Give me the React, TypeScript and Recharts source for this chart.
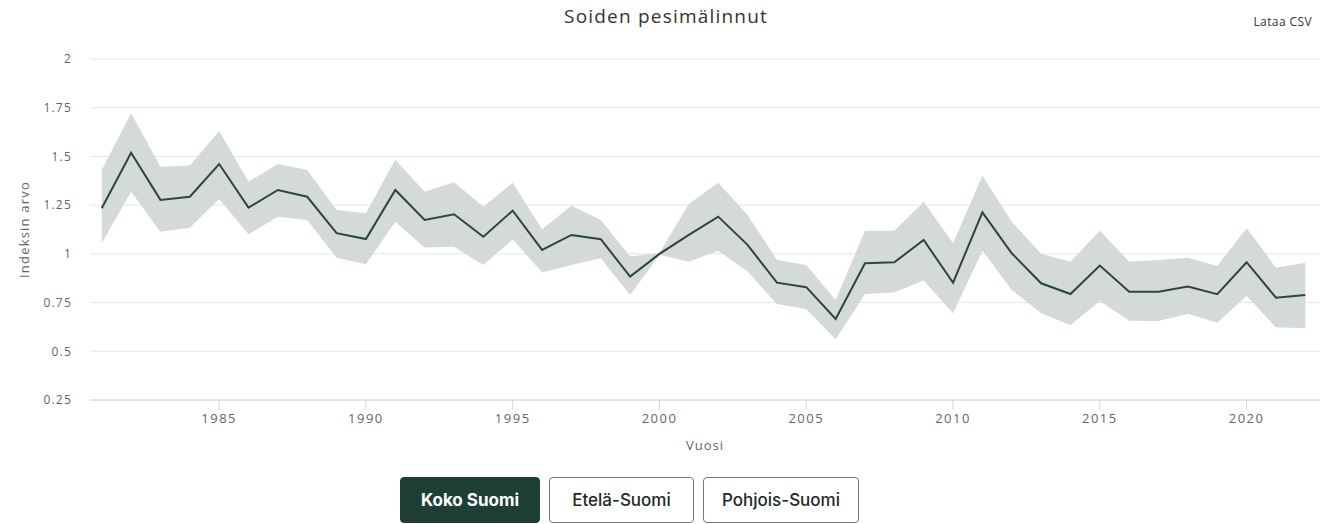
import { ComposedChart, Area, Line, XAxis, YAxis, CartesianGrid } from "recharts";

const years = [
  1981, 1982, 1983, 1984, 1985, 1986, 1987, 1988, 1989, 1990, 1991, 1992, 1993, 1994,
  1995, 1996, 1997, 1998, 1999, 2000, 2001, 2002, 2003, 2004, 2005, 2006, 2007, 2008,
  2009, 2010, 2011, 2012, 2013, 2014, 2015, 2016, 2017, 2018, 2019, 2020, 2021, 2022,
];

const indexValue = [
  1.234, 1.519, 1.277, 1.293, 1.461, 1.237, 1.328, 1.293, 1.106, 1.076, 1.328, 1.174, 1.203, 1.088,
  1.222, 1.02, 1.097, 1.075, 0.883, 1.0, 1.097, 1.191, 1.046, 0.852, 0.829, 0.666, 0.952, 0.957,
  1.071, 0.852, 1.213, 1.003, 0.849, 0.794, 0.94, 0.806, 0.806, 0.832, 0.793, 0.957, 0.775, 0.789,
];

const upper = [
  1.43, 1.721, 1.447, 1.453, 1.631, 1.37, 1.461, 1.43, 1.225, 1.208, 1.484, 1.319, 1.367, 1.242,
  1.365, 1.126, 1.247, 1.174, 0.986, 1.005, 1.256, 1.365, 1.2, 0.969, 0.943, 0.763, 1.118, 1.118,
  1.268, 1.054, 1.401, 1.165, 1.0, 0.96, 1.119, 0.96, 0.969, 0.98, 0.938, 1.131, 0.929, 0.955,
];

const lower = [
  1.056, 1.319, 1.114, 1.134, 1.282, 1.1, 1.191, 1.174, 0.98, 0.947, 1.165, 1.032, 1.037, 0.943,
  1.075, 0.904, 0.943, 0.977, 0.789, 0.995, 0.96, 1.016, 0.909, 0.743, 0.717, 0.562, 0.793, 0.803,
  0.863, 0.695, 1.016, 0.815, 0.695, 0.635, 0.758, 0.657, 0.656, 0.692, 0.647, 0.784, 0.623, 0.618,
];

const yTicks = [0.25, 0.5, 0.75, 1, 1.25, 1.5, 1.75, 2];
const xTicks = [1985, 1990, 1995, 2000, 2005, 2010, 2015, 2020];
const regions = ["Koko Suomi", "Etelä-Suomi", "Pohjois-Suomi"];
const regionWidths = [140, 145, 156];

const data = years.map((year, i) => ({
  year,
  value: indexValue[i],
  range: [lower[i], upper[i]],
}));

const FONT = "'Open Sans', 'DejaVu Sans', sans-serif";

export default function App() {
  return (
    <div style={{ position: "absolute", left: 0, top: 0, width: 1332, height: 524, background: "#fff", fontFamily: FONT }}>
      <div
        style={{
          position: "absolute",
          left: 0,
          top: 3,
          width: 1332,
          textAlign: "center",
          fontSize: 19,
          color: "#333",
          letterSpacing: 1.2,
        }}
      >
        Soiden pesimälinnut
      </div>
      <div style={{ position: "absolute", right: 20, top: 13, fontSize: 12, color: "#333", letterSpacing: 0.4 }}>
        Lataa CSV
      </div>

      <div style={{ position: "absolute", left: 0, top: 0 }}>
        <ComposedChart width={1332} height={470} data={data} margin={{ top: 59, right: 12, left: 0, bottom: 0 }}>
          <CartesianGrid vertical={false} stroke="#e6e6e6" />
          <XAxis
            dataKey="year"
            type="number"
            domain={[1980.6, 2022.5]}
            ticks={xTicks}
            height={70}
            tickSize={10}
            tickMargin={4}
            axisLine={{ stroke: "#ccd6eb" }}
            tickLine={{ stroke: "#ccd6eb" }}
            tick={{ fill: "#666", fontSize: 13, fontFamily: FONT, letterSpacing: 1.5 }}
            label={(props: any) => {
              const vb = props.viewBox;
              return (
                <text
                  x={vb.x + vb.width / 2}
                  y={vb.y + 50}
                  textAnchor="middle"
                  fill="#666"
                  fontSize={13}
                  letterSpacing={1}
                  fontFamily={FONT}
                >
                  Vuosi
                </text>
              );
            }}
          />
          <YAxis
            type="number"
            domain={[0.25, 2]}
            ticks={yTicks}
            width={90}
            tickSize={6}
            tickMargin={12}
            axisLine={false}
            tickLine={false}
            tick={{ fill: "#666", fontSize: 12, fontFamily: FONT, letterSpacing: 1.2 }}
            label={(props: any) => {
              const vb = props.viewBox;
              const cx = 29;
              const cy = vb.y + vb.height / 2;
              return (
                <text
                  x={cx}
                  y={cy}
                  transform={`rotate(-90 ${cx} ${cy})`}
                  textAnchor="middle"
                  fill="#666"
                  fontSize={13}
                  letterSpacing={1.2}
                  fontFamily={FONT}
                >
                  Indeksin arvo
                </text>
              );
            }}
          />
          <Area
            type="linear"
            dataKey="range"
            stroke="none"
            fill="#d3dad7"
            fillOpacity={1}
            isAnimationActive={false}
            activeDot={false}
          />
          <Line
            type="linear"
            dataKey="value"
            stroke="#2b473c"
            strokeWidth={2}
            dot={false}
            activeDot={false}
            isAnimationActive={false}
          />
        </ComposedChart>
      </div>

      <div style={{ position: "absolute", left: 400, top: 477, display: "flex", gap: 9 }}>
        {regions.map((r, i) => (
          <div
            key={r}
            style={{
              width: regionWidths[i],
              height: 46,
              display: "flex",
              alignItems: "center",
              justifyContent: "center",
              borderRadius: 4,
              border: i === 0 ? "1px solid #1f3f34" : "1px solid #777",
              background: i === 0 ? "#1f3f34" : "#fff",
              color: i === 0 ? "#fff" : "#1e2a25",
              fontFamily: "Inter, 'Noto Sans', sans-serif",
              fontWeight: i === 0 ? 700 : 500,
              fontSize: 17,
              boxSizing: "border-box",
            }}
          >
            {r}
          </div>
        ))}
      </div>
    </div>
  );
}
